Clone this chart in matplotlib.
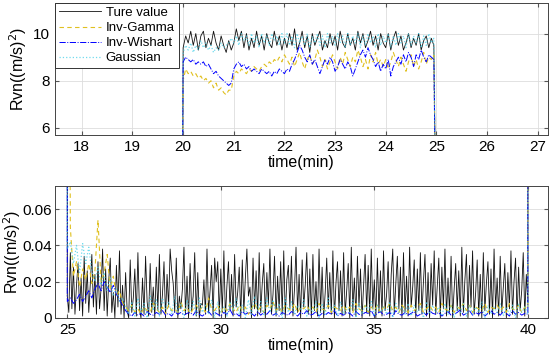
import numpy as np
import matplotlib
matplotlib.use("Agg")
from matplotlib import pyplot as plt

plt.rcParams['font.family'] = ['Liberation Sans', 'DejaVu Sans']

# ---- data ----
# top window 20.00 .. 24.95 min, 0.05 min step, values in (m/s)^2
true_top = [9.4, 9.9, 9.6, 10.1, 9.5, 10.0, 9.3, 9.9, 10.1, 9.4, 9.8, 9.5, 10.1, 9.6, 9.3, 9.9, 9.5, 9.2, 9.7, 9.3,
            9.6, 10.2, 9.7, 10.1, 9.4, 10.0, 9.3, 9.8, 9.4, 10.1, 9.5, 9.9, 9.3, 10.0, 9.6, 9.4, 10.1, 9.5, 9.9, 9.3,
            9.8, 9.4, 10.0, 9.5, 10.2, 9.3, 9.6, 10.1, 9.4, 9.9, 9.2, 10.0, 9.5, 9.8, 10.1, 9.3, 9.7, 9.4, 10.0, 9.5,
            9.9, 9.3, 10.1, 9.6, 9.4, 10.0, 9.5, 9.8, 9.3, 10.1, 9.6, 10.0, 9.4, 9.7, 10.1, 9.5, 9.9, 9.3, 10.0, 9.6,
            9.4, 10.0, 9.3, 9.8, 10.1, 9.5, 9.9, 9.3, 9.6, 10.0, 9.4, 9.8, 9.5, 10.0, 9.3, 9.7, 9.9, 9.4, 9.8, 9.5]
gamma_top = [8.0, 8.5, 8.3, 8.4, 8.2, 8.3, 8.1, 8.2, 8.0, 8.1, 7.9, 8.0, 7.7, 7.9, 7.6, 7.7, 7.5, 7.4, 7.6, 7.6,
             8.2, 8.4, 8.3, 8.5, 8.4, 8.3, 8.5, 8.4, 8.6, 8.5, 8.4, 8.6, 8.7, 8.6, 8.8, 8.7, 8.9, 8.8, 9.0, 8.8,
             9.1, 8.9, 8.7, 9.0, 8.6, 8.9, 9.2, 8.8, 8.5, 8.9, 9.1, 8.7, 8.9, 9.3, 9.0, 8.6, 8.9, 8.5, 8.8, 9.1,
             8.8, 8.5, 9.0, 8.7, 9.2, 8.9, 8.6, 9.0, 8.8, 9.3, 9.0, 8.6, 8.9, 8.5, 9.1, 8.8, 9.2, 8.7, 8.9, 8.6,
             8.9, 8.5, 8.8, 9.2, 8.9, 8.6, 9.0, 8.7, 8.4, 8.8, 9.1, 8.6, 8.9, 8.5, 8.8, 9.2, 8.7, 9.0, 8.9, 9.1]
wish_top = [8.8, 9.0, 8.9, 8.8, 8.9, 8.7, 8.8, 8.7, 8.8, 8.6, 8.7, 8.5, 8.3, 8.4, 8.2, 8.1, 8.0, 7.9, 7.8, 7.9,
            8.5, 8.7, 8.8, 8.6, 8.7, 8.5, 8.6, 8.4, 8.5, 8.4, 8.3, 8.5, 8.4, 8.3, 8.4, 8.2, 8.4, 8.3, 8.5, 8.4,
            8.3, 8.5, 8.4, 8.7, 8.9, 9.2, 9.5, 9.3, 9.0, 8.8, 9.1, 8.7, 8.9, 8.6, 8.3, 8.6, 8.9, 8.7, 9.0, 8.8,
            8.4, 8.6, 8.9, 8.7, 8.5, 8.8, 8.6, 8.2, 8.5, 8.8, 9.1, 9.3, 9.0, 9.4, 9.1, 8.9, 8.6, 8.8, 8.4, 8.7,
            8.5, 8.9, 8.2, 8.6, 8.8, 9.0, 8.7, 9.1, 8.8, 9.2, 9.0, 8.6, 9.1, 8.9, 9.3, 9.0, 8.8, 9.1, 9.0, 8.9]
gauss_top = [9.2, 9.5, 9.3, 9.6, 9.2, 9.5, 9.3, 9.7, 9.4, 9.6, 9.3, 9.5, 9.2, 9.4, 9.3, 9.6, 9.4, 9.5, 9.6, 9.8,
             9.6, 9.9, 9.5, 10.0, 9.7, 9.9, 9.5, 10.0, 9.6, 9.9, 9.4, 10.0, 9.6, 9.9, 9.5, 10.0, 9.7, 9.9, 9.5, 10.0,
             9.6, 10.0, 9.5, 9.9, 9.4, 10.0, 9.6, 9.9, 9.5, 10.0, 9.4, 9.9, 9.6, 10.0, 9.5, 9.9, 9.4, 10.0, 9.6, 9.9,
             9.5, 10.0, 9.6, 9.9, 9.4, 10.0, 9.5, 9.9, 9.6, 10.0, 9.4, 9.9, 9.5, 10.0, 9.6, 9.9, 9.4, 10.0, 9.5, 9.9,
             9.6, 10.0, 9.4, 9.9, 9.5, 10.0, 9.6, 9.9, 9.4, 10.0, 9.5, 9.9, 9.6, 10.0, 9.4, 9.9, 9.5, 10.0, 9.6, 9.8]

# bottom window 25.00 .. 40.00 min, true value every 0.05 min, in 1e-3 (m/s)^2
true_bot = [12, 3, 36, 5, 28, 2, 18, 30, 4, 22, 1, 34, 8, 26, 3, 19, 35, 6, 24, 2,
            31, 5, 16, 38, 4, 27, 1, 21, 33, 3, 14, 0, 29, 6, 37, 2, 18, 0, 25, 4,
            0, 32, 3, 11, 27, 1, 36, 5, 0, 22, 2, 34, 9, 1, 30, 3, 17, 0, 28, 4,
            35, 2, 13, 31, 0, 24, 6, 38, 26, 19, 3, 33, 0, 12, 5, 16, 39, 2, 23, 0,
            30, 4, 12, 36, 1, 25, 0, 8, 7, 21, 2, 38, 3, 15, 29, 0, 33, 20, 31, 1,
            27, 3, 37, 0, 18, 31, 4, 24, 1, 35, 6, 14, 28, 0, 32, 3, 22, 38, 12, 17,
            0, 33, 5, 26, 1, 36, 3, 19, 30, 0, 25, 7, 38, 2, 13, 34, 1, 23, 4, 31,
            2, 37, 0, 21, 29, 5, 34, 1, 16, 39, 3, 24, 0, 32, 6, 18, 36, 2, 27, 0,
            35, 4, 20, 1, 38, 3, 28, 0, 14, 33, 5, 25, 2, 37, 0, 19, 31, 4, 26, 1,
            36, 2, 15, 30, 0, 39, 4, 22, 1, 34, 6, 27, 0, 18, 35, 3, 29, 1, 38, 5,
            21, 0, 33, 3, 26, 1, 37, 4, 13, 31, 0, 24, 38, 2, 19, 34, 5, 28, 0, 36,
            3, 23, 1, 39, 6, 17, 32, 0, 27, 4, 36, 2, 20, 35, 1, 25, 0, 30, 7, 37,
            2, 18, 33, 0, 28, 5, 38, 1, 22, 3, 34, 0, 16, 30, 4, 26, 1, 39, 3, 21,
            35, 0, 29, 6, 37, 2, 14, 32, 1, 24, 0, 36, 4, 19, 31, 2, 27, 0, 38, 5,
            22, 1, 34, 3, 17, 30, 0, 25, 5, 37, 2, 20, 33, 0, 28, 4, 15, 36, 1, 24,
            8]
# estimators every 0.1 min, in 1e-4 (m/s)^2
gamma_bot = [5000, 500, 230, 310, 170, 270, 210, 300, 190, 260,
             540, 200, 250, 350, 160, 230, 120, 150, 80, 60,
             40, 70, 30, 50, 20, 60, 40, 30, 80, 50,
             30, 60, 20, 70, 40, 50, 30, 90, 40, 60,
             20, 50, 70, 40, 60, 30, 110, 50, 40, 70,
             30, 60, 40, 80, 50, 30, 70, 40, 60, 20,
             50, 80, 40, 60, 30, 70, 50, 90, 40, 60,
             30, 70, 50, 40, 80, 30, 60, 50, 70, 40,
             60, 30, 80, 50, 40, 70, 30, 60, 50, 40,
             70, 40, 60, 30, 80, 50, 40, 70, 30, 60,
             40, 70, 30, 60, 50, 80, 40, 60, 30, 70,
             50, 30, 70, 40, 60, 80, 30, 50, 70, 40,
             60, 30, 80, 50, 40, 70, 30, 60, 50, 80,
             40, 70, 30, 60, 50, 40, 80, 30, 60, 50,
             70, 40, 60, 30, 80, 50, 40, 70, 30, 60,
             50]
wish_bot = [90, 110, 80, 100, 130, 90, 120, 150, 110, 160,
            190, 150, 200, 170, 140, 180, 130, 100, 70, 40,
            20, 10, 30, 15, 25, 10, 35, 20, 15, 30,
            20, 40, 15, 25, 10, 35, 20, 30, 15, 25,
            30, 15, 40, 20, 10, 25, 35, 15, 30, 20,
            10, 30, 20, 45, 15, 25, 10, 35, 20, 30,
            25, 10, 35, 15, 30, 20, 40, 15, 25, 10,
            30, 20, 15, 35, 25, 10, 30, 20, 40, 15,
            20, 35, 10, 25, 15, 30, 20, 40, 10, 25,
            15, 30, 25, 10, 35, 20, 15, 30, 25, 40,
            10, 25, 35, 15, 20, 30, 10, 40, 20, 15,
            30, 15, 25, 35, 10, 20, 30, 15, 40, 25,
            20, 30, 10, 25, 35, 15, 20, 30, 45, 15,
            25, 40, 15, 30, 20, 35, 10, 25, 40, 20,
            30, 15, 35, 25, 10, 40, 20, 30, 15, 25,
            20]
gauss_bot = [380, 420, 300, 400, 250, 410, 300, 390, 260, 200,
             280, 180, 250, 150, 220, 120, 160, 90, 110, 60,
             20, 90, 10, 110, 30, 80, 0, 120, 40, 100,
             10, 110, 50, 90, 20, 120, 30, 80, 0, 100,
             40, 90, 10, 110, 30, 70, 20, 100, 0, 90,
             30, 60, 10, 90, 40, 110, 20, 70, 0, 100,
             20, 120, 40, 90, 10, 110, 30, 100, 20, 80,
             0, 110, 30, 90, 20, 70, 40, 100, 10, 60,
             30, 90, 0, 80, 20, 110, 40, 70, 10, 90,
             20, 60, 30, 100, 0, 80, 20, 70, 40, 90,
             10, 70, 30, 60, 20, 90, 0, 80, 30, 60,
             20, 80, 10, 70, 30, 60, 0, 90, 20, 70,
             30, 60, 10, 80, 20, 70, 0, 60, 30, 80,
             10, 70, 20, 60, 30, 90, 0, 70, 20, 60,
             30, 80, 10, 60, 20, 70, 0, 80, 30, 60,
             20]

# value just before 20 min and just after 40 min
before_20 = 0.01
after_40 = 9.0

t_top = 20 + 0.05 * np.arange(len(true_top))
t_fine = 25 + 0.05 * np.arange(len(true_bot))
t_coarse = 25 + 0.1 * np.arange(len(gamma_bot))


def series(top, bot, t_bot, scale):
    t = np.concatenate([[19.98], t_top, t_bot, [40.02]])
    v = np.concatenate([[before_20], top, np.array(bot) * scale, [after_40]])
    return t, v


t_true, v_true = series(true_top, true_bot, t_fine, 1e-3)
t_gam, v_gam = series(gamma_top, gamma_bot, t_coarse, 1e-4)
t_wis, v_wis = series(wish_top, wish_bot, t_coarse, 1e-4)
t_gau, v_gau = series(gauss_top, gauss_bot, t_coarse, 1e-4)

fig = plt.figure(figsize=(5.5, 3.6), dpi=100)
ax1 = fig.add_axes([0.1, 0.625, 0.896, 0.367])
ax2 = fig.add_axes([0.1, 0.117, 0.896, 0.366])

for ax in (ax1, ax2):
    ax.plot(t_true, v_true, color='#111111', lw=0.6, label='Ture value')
    ax.plot(t_gam, v_gam, color='#e0c020', lw=0.8, ls=(0, (4, 3)), label='Inv-Gamma')
    ax.plot(t_wis, v_wis, color='#0000ff', lw=0.7, ls='-.', label='Inv-Wishart')
    ax.plot(t_gau, v_gau, color='#40cfe8', lw=0.9, ls=':', alpha=0.75, label='Gaussian')
    ax.grid(True, color='#dddddd', lw=0.6)
    ax.set_axisbelow(True)
    ax.tick_params(direction='in', top=True, right=True, labelsize=11,
                   color='#555555', length=3)
    for s in ax.spines.values():
        s.set_color('#444444')
        s.set_linewidth(0.7)
    ax.set_xlabel('time(min)', fontsize=11.5, labelpad=1)

ax1.set_ylabel('Rvn((m/s)$^2$)', fontsize=11.5, labelpad=3)
ax2.set_ylabel('Rvn((m/s)$^2$)', fontsize=11.5, labelpad=0)

ax1.set_xlim(17.47, 27.2)
ax1.set_ylim(5.7, 11.3)
ax1.set_xticks(range(18, 28))
ax1.set_yticks([6, 8, 10])

ax2.set_xlim(24.6, 40.65)
ax2.set_ylim(0, 0.0727)
ax2.set_xticks([25, 30, 35, 40])
ax2.set_yticks([0, 0.02, 0.04, 0.06])
ax2.set_yticklabels(['0', '0.02', '0.04', '0.06'])
ax2.tick_params(axis='y', pad=2)

leg = ax1.legend(loc='upper left', fontsize=9.5, fancybox=False, borderaxespad=0,
                 handlelength=3.2, handletextpad=0.35, labelspacing=0.22,
                 borderpad=0.3, framealpha=1)
leg.get_frame().set_edgecolor('#333333')
leg.get_frame().set_linewidth(0.7)

plt.savefig('out.png', dpi=100)
